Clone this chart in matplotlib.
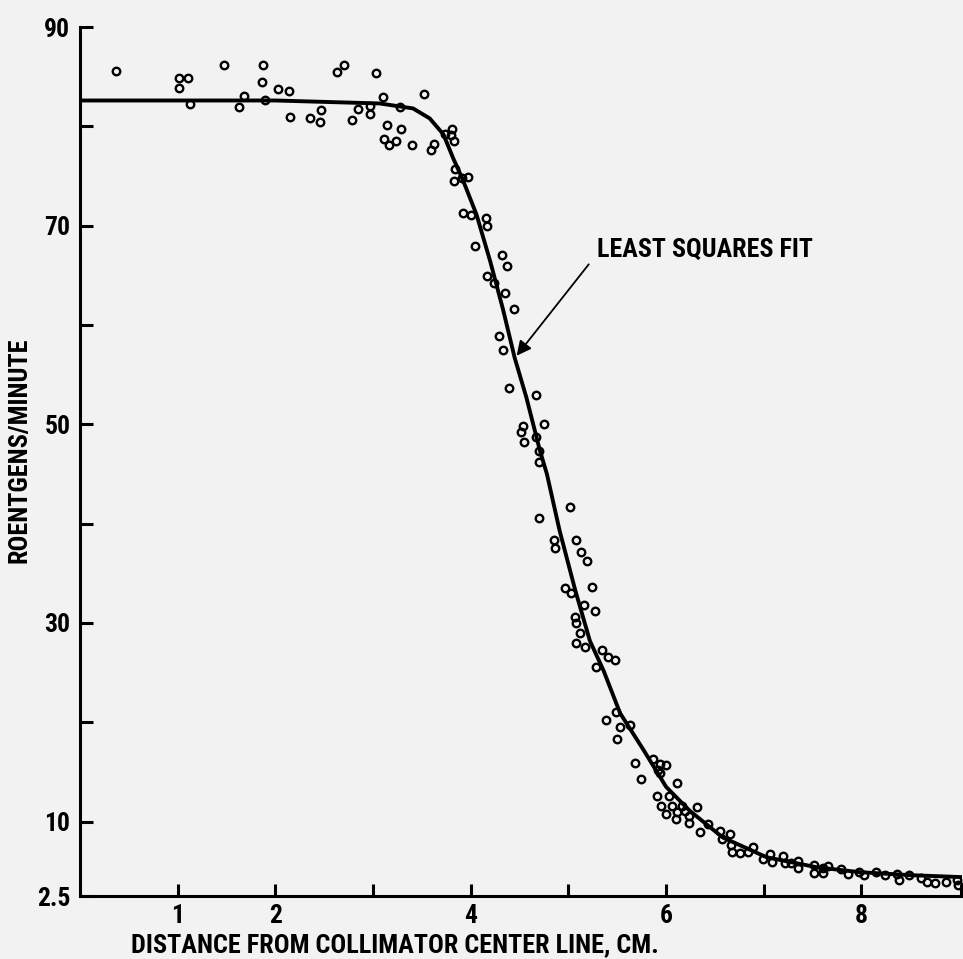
import matplotlib
matplotlib.use('Agg')
import matplotlib.pyplot as plt
from matplotlib import font_manager

# measured points (distance cm, roentgens/minute)
dist = [0.37, 1.01, 1.11, 1.01, 1.13, 1.47, 1.87, 1.86, 1.68, 1.63, 1.89, 2.03, 2.14, 2.15,
        2.35, 2.46, 2.47, 2.63, 2.70, 2.78, 2.85, 2.97, 2.97, 3.03, 3.10, 3.14, 3.28, 3.29,
        3.11, 3.16, 3.24, 3.40, 3.52, 3.59, 3.62, 3.74, 3.80, 3.81, 3.83, 3.84, 3.83, 3.91,
        3.97, 3.92, 4.00, 4.16, 4.17, 4.04,
        4.32, 4.37, 4.17, 4.24, 4.35, 4.44, 4.29, 4.33, 4.39, 4.67, 4.54, 4.52, 4.75, 4.67,
        4.55, 4.70, 4.70, 5.02, 4.70, 4.85, 4.86, 5.08, 5.13, 5.19, 4.97, 5.03, 5.24, 5.16,
        5.27, 5.07, 5.08, 5.12, 5.08, 5.17, 5.34, 5.41, 5.48, 5.28, 5.49, 5.39, 5.63, 5.53,
        5.50,
        5.68, 5.74, 5.87, 5.94, 6.00, 5.92, 5.94, 6.11, 5.91, 6.03, 5.95, 6.06, 6.00, 6.11,
        6.10, 6.16, 6.19, 6.24, 6.23, 6.32, 6.35, 6.43, 6.55, 6.65, 6.57, 6.67, 6.68, 6.76,
        6.89, 6.84, 7.06, 7.08, 6.99, 7.20, 7.22, 7.28, 7.35, 7.35, 7.51, 7.51, 7.61, 7.66,
        7.61, 7.79, 7.86, 7.98, 8.03, 8.15, 8.24, 8.36, 8.39, 8.49, 8.61, 8.67, 8.75, 8.87,
        8.98, 8.99]
rate = [85.6, 84.9, 84.9, 83.9, 82.2, 86.2, 86.2, 84.5, 83.1, 81.9, 82.6, 83.8, 83.6, 80.9,
        80.8, 80.4, 81.6, 85.5, 86.2, 80.6, 81.7, 81.2, 82.0, 85.4, 83.0, 80.1, 81.9, 79.7,
        78.7, 78.1, 78.5, 78.1, 83.3, 77.6, 78.2, 79.2, 79.1, 79.7, 78.5, 75.7, 74.5, 74.8,
        74.9, 71.3, 71.1, 70.8, 70.0, 67.9,
        67.0, 65.9, 64.9, 64.2, 63.2, 61.6, 58.9, 57.5, 53.7, 52.9, 49.8, 49.2, 50.0, 48.7,
        48.2, 47.3, 46.2, 41.7, 40.6, 38.3, 37.5, 38.3, 37.1, 36.2, 33.5, 33.0, 33.6, 31.8,
        31.2, 30.6, 30.0, 29.0, 28.0, 27.6, 27.3, 26.6, 26.3, 25.6, 21.0, 20.2, 19.7, 19.5,
        18.3,
        15.9, 14.3, 16.3, 15.8, 15.7, 15.2, 14.9, 13.9, 12.6, 12.6, 11.6, 11.6, 10.8, 11.0,
        10.3, 11.6, 11.1, 10.6, 9.9, 11.5, 8.9, 9.7, 9.0, 8.7, 8.2, 7.6, 6.9, 6.8,
        7.4, 6.9, 6.7, 5.9, 6.2, 6.5, 5.8, 5.8, 6.0, 5.3, 5.6, 4.8, 5.3, 5.5,
        4.8, 5.2, 4.7, 4.9, 4.6, 4.9, 4.6, 4.7, 4.1, 4.6, 4.3, 3.9, 3.8, 3.9,
        4.1, 3.6]

# least squares fit curve
fit_x = [0.0, 1.0, 2.0, 3.07, 3.41, 3.58, 3.72, 3.82, 3.92, 4.06, 4.20, 4.33, 4.45, 4.57, 4.71,
         4.78, 4.91, 5.07, 5.22, 5.36, 5.53, 5.77, 6.00, 6.24, 6.58, 7.03, 7.54, 7.98, 8.5, 9.03]
fit_y = [82.6, 82.6, 82.6, 82.3, 81.8, 80.8, 79.2, 76.8, 74.6, 71.1, 66.4, 61.6, 56.7, 52.7, 47.3,
         45.0, 39.3, 33.3, 28.2, 25.2, 20.9, 17.2, 13.5, 11.1, 8.4, 6.4, 5.4, 4.9, 4.6, 4.4]

x_ticks = [1, 2, 3, 4, 5, 6, 7, 8]
x_labels = ['1', '2', '', '4', '', '6', '', '8']
y_ticks = [2.5, 10, 20, 30, 40, 50, 60, 70, 80, 90]
y_labels = ['2.5', '10', '', '30', '', '50', '', '70', '', '90']

# pick a condensed bold face if one is installed
names = {f.name for f in font_manager.fontManager.ttflist}
family = 'DejaVu Sans'
for cand in ['Roboto Condensed', 'Fira Sans Condensed', 'PT Sans Narrow', 'Archivo Narrow',
             'Liberation Sans Narrow', 'DejaVu Sans Condensed']:
    if cand in names:
        family = cand
        break
plt.rcParams['font.family'] = [family, 'DejaVu Sans']
plt.rcParams['font.weight'] = 'bold'

bg = '#f2f2f2'
fig = plt.figure(figsize=(9.63, 9.59), dpi=100, facecolor=bg)
ax = fig.add_axes([80 / 963, 63 / 959, 882 / 963, 869 / 959], facecolor=bg)

ax.plot(fit_x, fit_y, color='black', lw=2.8, solid_capstyle='butt', solid_joinstyle='round', zorder=3)
ax.plot(dist, rate, 'o', ms=5.4, mfc='none', mec='black', mew=1.7, zorder=4)

ax.set_xlim(0, 9.03)
ax.set_ylim(2.5, 90)
for s in ['top', 'right']:
    ax.spines[s].set_visible(False)
for s in ['left', 'bottom']:
    ax.spines[s].set_linewidth(2.2)

ax.set_xticks(x_ticks)
ax.set_xticklabels(x_labels)
ax.set_xticks([9.02], minor=True)
ax.set_yticks(y_ticks)
ax.set_yticklabels(y_labels)
ax.tick_params(which='both', direction='in', length=9, width=2.2, pad=6)
ax.tick_params(axis='y', pad=7)


def size_for(text, target_px, base=20):
    # font size that gives the wanted text width in pixels
    t = fig.text(0, 0, text, fontsize=base, fontweight='bold')
    w = t.get_window_extent(fig.canvas.get_renderer()).width
    t.remove()
    return base * target_px / w


ann_size = size_for('LEAST SQUARES FIT', 216)
xl_size = size_for('DISTANCE FROM COLLIMATOR CENTER LINE, CM.', 530)
yl_size = size_for('ROENTGENS/MINUTE', 226)
tick_size = size_for('90', 26)

ax.annotate('LEAST SQUARES FIT', xy=(4.47, 56.9), xytext=(5.29, 67.6),
            ha='left', va='center', fontsize=ann_size, fontweight='bold',
            arrowprops=dict(arrowstyle='-|>', color='black', lw=1.3, mutation_scale=22,
                            relpos=(0, 0.3), shrinkA=6, shrinkB=0))
fig.text(395 / 963, 1 - 945 / 959, 'DISTANCE FROM COLLIMATOR CENTER LINE, CM.',
         ha='center', va='center', fontsize=xl_size, fontweight='bold')
fig.text(20 / 963, 1 - 450 / 959, 'ROENTGENS/MINUTE', rotation=90,
         ha='center', va='center', fontsize=yl_size, fontweight='bold')
ax.tick_params(labelsize=tick_size)

fig.savefig('out.png', dpi=100, facecolor=bg)
